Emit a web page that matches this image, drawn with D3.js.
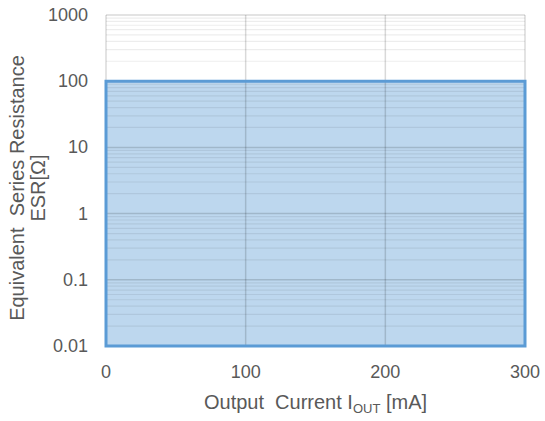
<!DOCTYPE html>
<html lang="en">
<head>
  <meta charset="utf-8">
  <title>ESR stable region</title>
  <script src="https://cdn.jsdelivr.net/npm/d3@7"></script>
  <style>
    body { margin: 0; background: #fff; }
    text { font-family: 'Liberation Sans', Arial, sans-serif; fill: #595959; }
    .tick-label { font-size: 18px; }
    .title { font-size: 20px; }
  </style>
</head>
<body>
  <svg id="chart" width="545" height="421"></svg>
  <script>
    // stable region: 0..300 mA, ESR from 0.01 up to 100 ohm
    const currentMA = [0, 300];
    const esrUpper = [100, 100];
    const esrLower = [0.01, 0.01];
    const xTicks = [0, 100, 200, 300];
    const yTicks = [0.01, 0.1, 1, 10, 100, 1000];

    const margin = { left: 106, right: 20, top: 15, bottom: 75 };
    const W = 545, H = 421;
    const svg = d3.select("#chart");

    const x = d3.scaleLinear().domain([0, 300]).range([margin.left, W - margin.right]);
    const y = d3.scaleLog().domain([0.01, 1000]).range([H - margin.bottom, margin.top]);

    // filled region
    const area = d3.area()
      .x(d => x(d[0]))
      .y0(d => y(d[2]))
      .y1(d => y(d[1]));
    const pts = currentMA.map((c, i) => [c, esrUpper[i], esrLower[i]]);
    svg.append("path")
      .attr("d", area(pts))
      .attr("fill", "#bdd7ee");

    // minor grid
    const minor = [];
    for (let e = -2; e < 3; e++) {
      for (let m = 2; m < 10; m++) minor.push(m * Math.pow(10, e));
    }
    svg.append("g").selectAll("line")
      .data(minor).enter().append("line")
      .attr("x1", x(0)).attr("x2", x(300))
      .attr("y1", d => y(d)).attr("y2", d => y(d))
      .attr("stroke", "rgba(0,0,0,0.07)")
      .attr("stroke-width", 1.2);

    // major grid
    svg.append("g").selectAll("line")
      .data(yTicks).enter().append("line")
      .attr("x1", x(0)).attr("x2", x(300))
      .attr("y1", d => y(d)).attr("y2", d => y(d))
      .attr("stroke", "rgba(0,0,0,0.15)")
      .attr("stroke-width", 1.5);
    svg.append("g").selectAll("line")
      .data(xTicks).enter().append("line")
      .attr("x1", d => x(d)).attr("x2", d => x(d))
      .attr("y1", y(1000)).attr("y2", y(0.01))
      .attr("stroke", "rgba(0,0,0,0.15)")
      .attr("stroke-width", 1.5);

    // region outline
    svg.append("path")
      .attr("d", area(pts))
      .attr("fill", "none")
      .attr("stroke", "#5b9bd5")
      .attr("stroke-width", 3);

    // tick labels
    svg.append("g").selectAll("text")
      .data(yTicks).enter().append("text")
      .attr("class", "tick-label")
      .attr("x", 88)
      .attr("y", d => y(d) + 6)
      .attr("text-anchor", "end")
      .text(d => d);
    svg.append("g").selectAll("text")
      .data(xTicks).enter().append("text")
      .attr("class", "tick-label")
      .attr("x", d => x(d))
      .attr("y", 378)
      .attr("text-anchor", "middle")
      .text(d => d);

    // axis titles
    const xt = svg.append("text").attr("class", "title")
      .attr("x", x(150)).attr("y", 409).attr("text-anchor", "middle")
      .attr("xml:space", "preserve");
    xt.append("tspan").text("Output  Current I");
    xt.append("tspan").attr("font-size", 13).attr("dy", 4).text("OUT");
    xt.append("tspan").attr("dy", -4).text(" [mA]");

    const yt = svg.append("text").attr("class", "title")
      .attr("transform", "translate(24,188) rotate(-90)")
      .attr("text-anchor", "middle")
      .attr("xml:space", "preserve");
    yt.append("tspan").attr("x", 0).attr("dy", 0).text("Equivalent  Series Resistance");
    yt.append("tspan").attr("x", 0).attr("dy", 21).text("ESR[Ω]");
  </script>
</body>
</html>
